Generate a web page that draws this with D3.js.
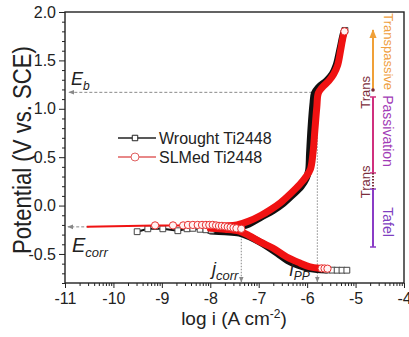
<!DOCTYPE html>
<html>
<head>
<meta charset="utf-8">
<script src="https://cdn.jsdelivr.net/npm/d3@7"></script>
<style>
  body { margin: 0; background: #fff; }
  svg { display: block; font-family: "Liberation Sans", Arial, sans-serif; }
</style>
</head>
<body>
<svg id="chart" width="409" height="337"></svg>
<script>
// ---- data: [log i, potential] ----
const wroughtCath = [[-5.6,-0.665],[-5.8,-0.66],[-6.0,-0.645],[-6.2,-0.615],[-6.4,-0.57],[-6.6,-0.5],[-6.8,-0.43],[-7.0,-0.37],[-7.2,-0.32],[-7.4,-0.285],[-7.7,-0.27],[-8.0,-0.262]];
const wroughtAnod = [[-8.0,-0.255],[-7.7,-0.245],[-7.45,-0.23],[-7.2,-0.19],[-6.95,-0.12],[-6.7,-0.05],[-6.5,0.02],[-6.3,0.11],[-6.12,0.2],[-6.02,0.28],[-5.97,0.36],[-5.95,0.54],[-5.92,0.8],[-5.88,1.05],[-5.85,1.16],[-5.77,1.22],[-5.6,1.29],[-5.48,1.36],[-5.4,1.45],[-5.33,1.6],[-5.27,1.74],[-5.24,1.8]];
const wroughtCorr = [[-9.51,-0.27],[-9.29,-0.24],[-8.98,-0.24],[-8.67,-0.26],[-8.48,-0.24],[-8.36,-0.235],[-8.21,-0.245],[-8.09,-0.25],[-7.98,-0.255]];
const wroughtTail = [[-5.58,-0.665],[-5.48,-0.667],[-5.38,-0.668],[-5.28,-0.668],[-5.18,-0.668]];
const wroughtTop = [[-5.22,1.81]];

const slmCath = [[-5.75,-0.648],[-5.94,-0.634],[-6.15,-0.593],[-6.42,-0.531],[-6.71,-0.438],[-6.97,-0.376],[-7.2,-0.31],[-7.4,-0.265],[-7.7,-0.245],[-8.0,-0.235]];
const slmAnod = [[-8.0,-0.215],[-7.7,-0.21],[-7.45,-0.2],[-7.2,-0.16],[-6.95,-0.1],[-6.75,-0.04],[-6.55,0.03],[-6.35,0.12],[-6.15,0.22],[-6.02,0.3],[-5.93,0.38],[-5.88,0.54],[-5.84,0.78],[-5.8,1.02],[-5.77,1.16],[-5.69,1.22],[-5.55,1.29],[-5.45,1.36],[-5.37,1.45],[-5.31,1.6],[-5.26,1.74],[-5.23,1.8]];
const slmCorr = [[-10.55,-0.22],[-9.14,-0.205],[-8.77,-0.205],[-8.56,-0.205],[-8.46,-0.2],[-8.36,-0.2],[-8.26,-0.2],[-8.17,-0.2],[-8.09,-0.2],[-8.02,-0.2],[-7.95,-0.2],[-7.88,-0.205],[-7.82,-0.21],[-7.76,-0.21],[-7.7,-0.215],[-7.64,-0.22],[-7.58,-0.225],[-7.52,-0.23],[-7.46,-0.235],[-7.36,-0.24]];
const slmTail = [[-5.7,-0.649],[-5.64,-0.65],[-5.58,-0.652]];
const slmTop = [[-5.23,1.8]];

const xMajor = [-11,-10,-9,-8,-7,-6,-5,-4];
const yMajor = [-0.5,0.0,0.5,1.0,1.5,2.0];
const Eb = 1.17, Ecorr = -0.22, jcorr = -7.36, Ipp = -5.79;

const stages = [
  {name:"Transpassive", from:1.194, to:1.814, color:"#F0A038", text:"#EFA040", mid:1.59},
  {name:"Passivation", from:0.337, to:1.122, color:"#D0307E", text:"#A23CB6", mid:0.77},
  {name:"Tafel", from:-0.428, to:0.171, color:"#8A3CC6", text:"#7F3FC0", mid:-0.17}
];
const transMid = [1.17, 0.244];

// ---- scales ----
const svg = d3.select("#chart");
const mLeft = 65, mRight = 404, mTop = 12, mBottom = 283;
const x = d3.scaleLinear().domain([-11,-4]).range([mLeft,mRight]);
const y = d3.scaleLinear().domain([-0.8,2.0]).range([mBottom,mTop]);

const defs = svg.append("defs");
function arrowDef(id, color, size) {
  defs.append("marker").attr("id", id)
    .attr("viewBox","0 0 10 10").attr("refX",9).attr("refY",5)
    .attr("markerWidth",size).attr("markerHeight",size)
    .attr("markerUnits","userSpaceOnUse").attr("orient","auto")
    .append("path").attr("d","M0,1 L10,5 L0,9 Z").attr("fill",color);
}
arrowDef("arrGray","#888",6);
arrowDef("arrOrange","#F0A038",9);

// ---- axes ----
const xMinor = [];
xMajor.slice(0,-1).forEach(d => { for (let k=2;k<=9;k++) xMinor.push(d+Math.log10(k)); });
const yMinor = d3.range(-8,21).map(d => d/10).filter(d => !yMajor.some(m => Math.abs(m-d)<1e-6));

const gx = svg.append("g").attr("transform",`translate(0,${mBottom})`);
gx.call(d3.axisBottom(x).tickValues(xMajor).tickSize(5).tickSizeOuter(0).tickFormat(d => String(d)));
const gxm = svg.append("g").attr("transform",`translate(0,${mBottom})`);
gxm.call(d3.axisBottom(x).tickValues(xMinor).tickSize(3).tickSizeOuter(0).tickFormat(""));
const gy = svg.append("g").attr("transform",`translate(${mLeft},0)`);
gy.call(d3.axisLeft(y).tickValues(yMajor).tickSize(6).tickSizeOuter(0).tickFormat(d => d.toFixed(1)));
const gym = svg.append("g").attr("transform",`translate(${mLeft},0)`);
gym.call(d3.axisLeft(y).tickValues(yMinor).tickSize(3).tickSizeOuter(0).tickFormat(""));
[gx,gxm,gy,gym].forEach(g => {
  g.select(".domain").remove();
  g.selectAll("line").attr("stroke","#222").attr("stroke-width",1);
  g.selectAll("text").attr("font-size",16).attr("fill","#222").attr("font-family","Liberation Sans, Arial, sans-serif");
});
gx.selectAll("text").attr("y",7).attr("dy","0.85em");
gy.selectAll("text").attr("x",-9);

svg.append("rect").attr("x",mLeft).attr("y",mTop).attr("width",mRight-mLeft).attr("height",mBottom-mTop)
  .attr("fill","none").attr("stroke","#222").attr("stroke-width",1.4);

svg.append("text").attr("x",234).attr("y",325).attr("text-anchor","middle")
  .attr("font-size",19).attr("fill","#222")
  .html('log i (A cm<tspan dy="-7" font-size="12">-2</tspan><tspan dy="7">)</tspan>');
svg.append("text").attr("transform","translate(31,150) rotate(-90)").attr("text-anchor","middle")
  .attr("font-size",25).attr("fill","#222").attr("textLength",208).attr("lengthAdjust","spacingAndGlyphs")
  .text("Potential (V vs. SCE)");

// ---- guide lines ----
svg.append("line").attr("x1",x(Ipp)).attr("x2",x(-10.92)).attr("y1",y(Eb)).attr("y2",y(Eb))
  .attr("stroke","#888").attr("stroke-width",1).attr("stroke-dasharray","3,2").attr("marker-end","url(#arrGray)");
svg.append("line").attr("x1",x(-10.5)).attr("x2",x(-10.94)).attr("y1",y(Ecorr)).attr("y2",y(Ecorr))
  .attr("stroke","#888").attr("stroke-width",1).attr("stroke-dasharray","3,2").attr("marker-end","url(#arrGray)");
svg.append("line").attr("x1",x(jcorr)).attr("x2",x(jcorr)).attr("y1",y(-0.25)).attr("y2",mBottom-1)
  .attr("stroke","#888").attr("stroke-width",1).attr("stroke-dasharray","1.5,1.5").attr("marker-end","url(#arrGray)");
svg.append("line").attr("x1",x(Ipp)).attr("x2",x(Ipp)).attr("y1",y(Eb)).attr("y2",mBottom-1)
  .attr("stroke","#888").attr("stroke-width",1).attr("stroke-dasharray","1.5,1.5").attr("marker-end","url(#arrGray)");

// ---- curves ----
const line = d3.line().x(d => x(d[0])).y(d => y(d[1])).curve(d3.curveCatmullRom);
const thin = d3.line().x(d => x(d[0])).y(d => y(d[1]));

function drawSeries(cath, anod, corr, tail, topPt, color, shape, markStroke, markFill) {
  const g = svg.append("g");
  g.append("path").datum(corr).attr("d",thin).attr("fill","none").attr("stroke",color).attr("stroke-width",2);
  g.append("path").datum(tail).attr("d",thin).attr("fill","none").attr("stroke",color).attr("stroke-width",2);
  [cath, anod].forEach(arr => {
    g.append("path").datum(arr).attr("d",line).attr("fill","none")
      .attr("stroke",color).attr("stroke-width",7).attr("stroke-linejoin","round").attr("stroke-linecap","round");
  });
  const marks = corr.slice(color === "#111" ? 0 : 1).concat(tail, topPt);
  const sym = d3.symbol().type(shape).size(shape === d3.symbolSquare ? 34 : 42);
  g.selectAll("path.m").data(marks).join("path").attr("class","m")
    .attr("transform",d => `translate(${x(d[0])},${y(d[1])})`).attr("d",sym)
    .attr("fill",markFill).attr("stroke",markStroke).attr("stroke-width",1);
}
drawSeries(wroughtCath, wroughtAnod, wroughtCorr, wroughtTail, wroughtTop, "#111", d3.symbolSquare, "#444", "#fff");
drawSeries(slmCath, slmAnod, slmCorr, slmTail, slmTop, "#F01212", d3.symbolCircle, "#E83030", "#FFF2F2");

// ---- legend ----
const legend = [{label:"Wrought Ti2448", color:"#222", shape:d3.symbolSquare, size:30, y:138},
                {label:"SLMed Ti2448", color:"#E06060", shape:d3.symbolCircle, size:50, y:157}];
legend.forEach(l => {
  svg.append("line").attr("x1",118).attr("x2",156).attr("y1",l.y).attr("y2",l.y).attr("stroke",l.color).attr("stroke-width",1.3);
  svg.append("path").attr("transform",`translate(135,${l.y})`).attr("d",d3.symbol().type(l.shape).size(l.size)())
    .attr("fill","#fff").attr("stroke",l.color).attr("stroke-width",1);
  svg.append("text").attr("x",159).attr("y",l.y).attr("dy","0.35em").attr("font-size",16).attr("fill","#222").text(l.label);
});

// ---- annotations ----
function italicLabel(px, py, main, sub, size, subSize) {
  svg.append("text").attr("x",px).attr("y",py).attr("font-size",size).attr("font-style","italic").attr("fill","#222")
    .html(`${main}<tspan dy="${size*0.25}" font-size="${subSize}">${sub}</tspan>`);
}
italicLabel(71, 85, "E", "b", 18, 12);
italicLabel(72, 252, "E", "corr", 20, 13);
italicLabel(212, 275, "j", "corr", 18, 13);
italicLabel(289, 276, "I", "PP", 17, 12);

const ax = x(-4.64);
stages.forEach(s => {
  const l = svg.append("line").attr("x1",ax).attr("x2",ax).attr("y1",y(s.from)).attr("y2",y(s.to))
    .attr("stroke",s.color).attr("stroke-width",2);
  if (s.name === "Transpassive") {
    l.attr("marker-end","url(#arrOrange)");
    svg.append("circle").attr("cx",ax).attr("cy",y(s.from)).attr("r",1.8).attr("fill","#7B2D3B");
  } else {
    [s.from, s.to].forEach(v => svg.append("line").attr("x1",ax-3).attr("x2",ax+3).attr("y1",y(v)).attr("y2",y(v))
      .attr("stroke",s.color).attr("stroke-width",1.5));
  }
  svg.append("text").attr("transform",`translate(388,${y(s.mid)}) rotate(90)`).attr("text-anchor","middle")
    .attr("dominant-baseline","central").attr("font-size",s.name === "Transpassive" ? 13 : 14).attr("fill",s.text).text(s.name);
});
svg.append("line").attr("x1",ax).attr("x2",ax).attr("y1",y(0.337)).attr("y2",y(0.171))
  .attr("stroke","#7B2D3B").attr("stroke-width",2).attr("stroke-dasharray","1.5,1.5");
transMid.forEach(v => {
  svg.append("text").attr("transform",`translate(365,${y(v)}) rotate(-90)`).attr("text-anchor","middle")
    .attr("dominant-baseline","central").attr("font-size",13).attr("fill","#7B2D3B").text("Trans");
});
</script>
</body>
</html>
